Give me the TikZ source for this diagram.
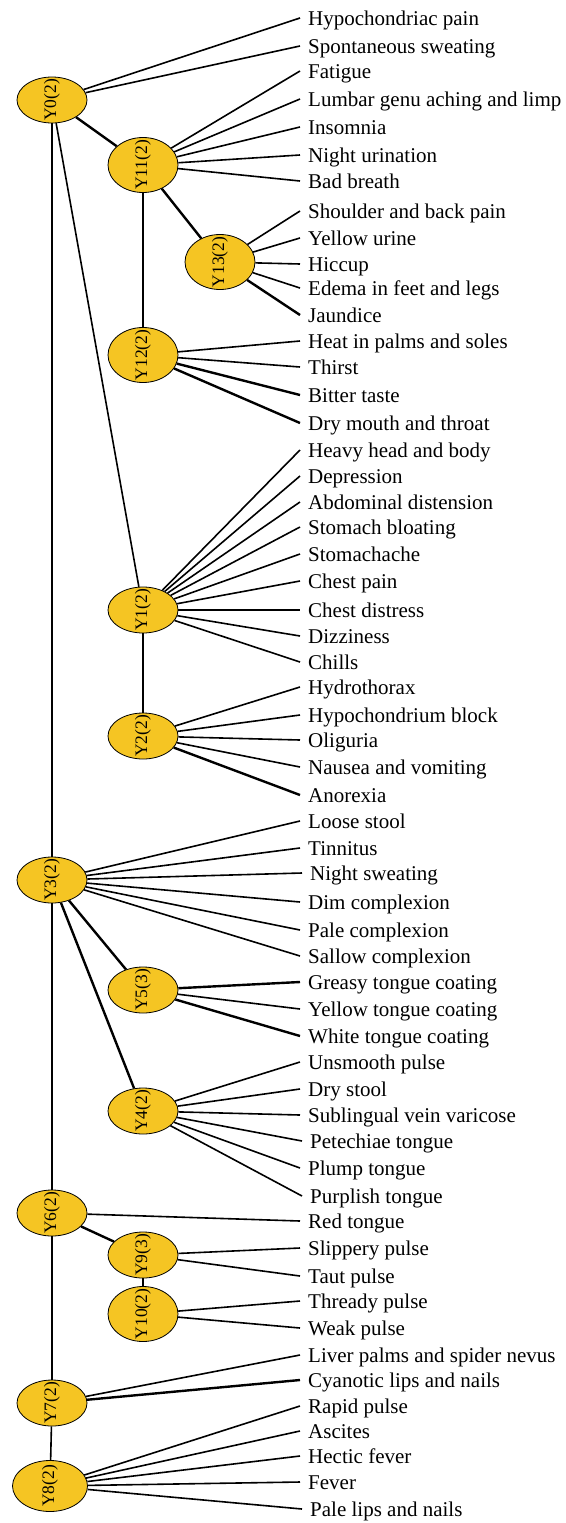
\documentclass[tikz,border=0pt]{standalone}
\usepackage{fontspec}
\setmainfont{Liberation Serif}
\usetikzlibrary{shapes.geometric}
\definecolor{nodeyellow}{HTML}{F5C523}
\tikzset{
  lat/.style={ellipse, draw=black, line width=0.8pt, fill=nodeyellow,
    minimum width=70pt, minimum height=46pt, inner sep=0pt},
  tall/.style={minimum height=55pt},
  lattext/.style={rotate=90, inner sep=0pt, font=\fontsize{17.5}{17.5}\selectfont},
  sym/.style={anchor=west, inner xsep=8pt, inner ysep=0pt, text height=14pt,
    text depth=0pt, font=\fontsize{21}{21}\selectfont},
  edge/.style={line width=1.6pt},
  hedge/.style={line width=2.4pt}
}
\begin{document}
\begin{tikzpicture}[x=1pt,y=-1pt]
\useasboundingbox (0,0) rectangle (565,1523);
% latent nodes
\node[lat] (Y0) at (52,100) {};
\node[lat,tall] (Y11) at (143,165) {};
\node[lat,tall] (Y13) at (220,262) {};
\node[lat,tall] (Y12) at (143,355) {};
\node[lat] (Y1) at (143,610) {};
\node[lat] (Y2) at (143,736) {};
\node[lat] (Y3) at (52,880) {};
\node[lat] (Y5) at (143,990) {};
\node[lat] (Y4) at (143,1111) {};
\node[lat] (Y6) at (52,1213) {};
\node[lat] (Y9) at (143,1255) {};
\node[lat,tall] (Y10) at (143,1314) {};
\node[lat] (Y7) at (52,1403) {};
\node[lat,minimum width=75pt,minimum height=51pt] (Y8) at (50,1486) {};
\node[lattext] (tY0) at (Y0) {Y0(2)};
\node[lattext] (tY11) at (Y11) {Y11(2)};
\node[lattext] (tY13) at (Y13) {Y13(2)};
\node[lattext] (tY12) at (Y12) {Y12(2)};
\node[lattext] (tY1) at (Y1) {Y1(2)};
\node[lattext] (tY2) at (Y2) {Y2(2)};
\node[lattext] (tY3) at (Y3) {Y3(2)};
\node[lattext] (tY5) at (Y5) {Y5(3)};
\node[lattext] (tY4) at (Y4) {Y4(2)};
\node[lattext] (tY6) at (Y6) {Y6(2)};
\node[lattext] (tY9) at (Y9) {Y9(3)};
\node[lattext] (tY10) at (Y10) {Y10(2)};
\node[lattext] (tY7) at (Y7) {Y7(2)};
\node[lattext] (tY8) at (Y8) {Y8(2)};
% symptom labels
\node[sym] (s1) at (300,18) {Hypochondriac pain};
\node[sym] (s2) at (300,46) {Spontaneous sweating};
\node[sym] (s3) at (300,71) {Fatigue};
\node[sym] (s4) at (300,99) {Lumbar genu aching and limp};
\node[sym] (s5) at (300,127) {Insomnia};
\node[sym] (s6) at (300,155) {Night urination};
\node[sym] (s7) at (300,181) {Bad breath};
\node[sym] (s8) at (300,211) {Shoulder and back pain};
\node[sym] (s9) at (300,238) {Yellow urine};
\node[sym] (s10) at (300,264) {Hiccup};
\node[sym] (s11) at (300,288) {Edema in feet and legs};
\node[sym] (s12) at (300,315) {Jaundice};
\node[sym] (s13) at (300,341) {Heat in palms and soles};
\node[sym] (s14) at (300,367) {Thirst};
\node[sym] (s15) at (300,395) {Bitter taste};
\node[sym] (s16) at (300,423) {Dry mouth and throat};
\node[sym] (s17) at (300,450) {Heavy head and body};
\node[sym] (s18) at (300,476) {Depression};
\node[sym] (s19) at (300,502) {Abdominal distension};
\node[sym] (s20) at (300,527) {Stomach bloating};
\node[sym] (s21) at (300,554) {Stomachache};
\node[sym] (s22) at (300,581) {Chest pain};
\node[sym] (s23) at (300,610) {Chest distress};
\node[sym] (s24) at (300,636) {Dizziness};
\node[sym] (s25) at (300,662) {Chills};
\node[sym] (s26) at (300,687) {Hydrothorax};
\node[sym] (s27) at (300,715) {Hypochondrium block};
\node[sym] (s28) at (300,740) {Oliguria};
\node[sym] (s29) at (300,767) {Nausea and vomiting};
\node[sym] (s30) at (300,795) {Anorexia};
\node[sym] (s31) at (300,821) {Loose stool};
\node[sym] (s32) at (300,848) {Tinnitus};
\node[sym] (s33) at (302,873) {Night sweating};
\node[sym] (s34) at (300,902) {Dim complexion};
\node[sym] (s35) at (300,930) {Pale complexion};
\node[sym] (s36) at (300,956) {Sallow complexion};
\node[sym] (s37) at (300,982) {Greasy tongue coating};
\node[sym] (s38) at (300,1009) {Yellow tongue coating};
\node[sym] (s39) at (300,1036) {White tongue coating};
\node[sym] (s40) at (300,1062) {Unsmooth pulse};
\node[sym] (s41) at (300,1089) {Dry stool};
\node[sym] (s42) at (300,1115) {Sublingual vein varicose};
\node[sym] (s43) at (302,1141) {Petechiae tongue};
\node[sym] (s44) at (300,1168) {Plump tongue};
\node[sym] (s45) at (302,1196) {Purplish tongue};
\node[sym] (s46) at (300,1221) {Red tongue};
\node[sym] (s47) at (300,1248) {Slippery pulse};
\node[sym] (s48) at (300,1276) {Taut pulse};
\node[sym] (s49) at (300,1301) {Thready pulse};
\node[sym] (s50) at (300,1328) {Weak pulse};
\node[sym] (s51) at (300,1355) {Liver palms and spider nevus};
\node[sym] (s52) at (300,1380) {Cyanotic lips and nails};
\node[sym] (s53) at (300,1406) {Rapid pulse};
\node[sym] (s54) at (300,1431) {Ascites};
\node[sym] (s55) at (300,1456) {Hectic fever};
\node[sym] (s56) at (300,1482) {Fever};
\node[sym] (s57) at (302,1509) {Pale lips and nails};
% connectors
\draw[edge] (Y0) -- (s1.west);
\draw[edge] (Y0) -- (s2.west);
\draw[hedge] (Y0) -- (Y11);
\draw[edge] (Y0) -- (Y1);
\draw[edge] (Y0) -- (Y3);
\draw[edge] (Y11) -- (s3.west);
\draw[edge] (Y11) -- (s4.west);
\draw[edge] (Y11) -- (s5.west);
\draw[edge] (Y11) -- (s6.west);
\draw[edge] (Y11) -- (s7.west);
\draw[hedge] (Y11) -- (Y13);
\draw[hedge] (Y11) -- (Y12);
\draw[edge] (Y13) -- (s8.west);
\draw[edge] (Y13) -- (s9.west);
\draw[edge] (Y13) -- (s10.west);
\draw[edge] (Y13) -- (s11.west);
\draw[hedge] (Y13) -- (s12.west);
\draw[edge] (Y12) -- (s13.west);
\draw[edge] (Y12) -- (s14.west);
\draw[hedge] (Y12) -- (s15.west);
\draw[hedge] (Y12) -- (s16.west);
\draw[edge] (Y1) -- (s17.west);
\draw[edge] (Y1) -- (s18.west);
\draw[edge] (Y1) -- (s19.west);
\draw[edge] (Y1) -- (s20.west);
\draw[edge] (Y1) -- (s21.west);
\draw[edge] (Y1) -- (s22.west);
\draw[edge] (Y1) -- (s23.west);
\draw[edge] (Y1) -- (s24.west);
\draw[edge] (Y1) -- (s25.west);
\draw[hedge] (Y1) -- (Y2);
\draw[edge] (Y2) -- (s26.west);
\draw[edge] (Y2) -- (s27.west);
\draw[edge] (Y2) -- (s28.west);
\draw[edge] (Y2) -- (s29.west);
\draw[hedge] (Y2) -- (s30.west);
\draw[edge] (Y3) -- (s31.west);
\draw[edge] (Y3) -- (s32.west);
\draw[edge] (Y3) -- (s33.west);
\draw[edge] (Y3) -- (s34.west);
\draw[edge] (Y3) -- (s35.west);
\draw[edge] (Y3) -- (s36.west);
\draw[hedge] (Y3) -- (Y5);
\draw[hedge] (Y3) -- (Y4);
\draw[hedge] (Y3) -- (Y6);
\draw[hedge] (Y5) -- (s37.west);
\draw[edge] (Y5) -- (s38.west);
\draw[hedge] (Y5) -- (s39.west);
\draw[edge] (Y4) -- (s40.west);
\draw[edge] (Y4) -- (s41.west);
\draw[edge] (Y4) -- (s42.west);
\draw[edge] (Y4) -- (s43.west);
\draw[edge] (Y4) -- (s44.west);
\draw[edge] (Y4) -- (s45.west);
\draw[edge] (Y6) -- (s46.west);
\draw[hedge] (Y6) -- (Y9);
\draw[hedge] (Y6) -- (Y7);
\draw[edge] (Y9) -- (s47.west);
\draw[edge] (Y9) -- (s48.west);
\draw[hedge] (Y9) -- (Y10);
\draw[edge] (Y10) -- (s49.west);
\draw[edge] (Y10) -- (s50.west);
\draw[edge] (Y7) -- (s51.west);
\draw[hedge] (Y7) -- (s52.west);
\draw[edge] (Y7) -- (Y8);
\draw[edge] (Y8) -- (s53.west);
\draw[edge] (Y8) -- (s54.west);
\draw[edge] (Y8) -- (s55.west);
\draw[edge] (Y8) -- (s56.west);
\draw[edge] (Y8) -- (s57.west);
\end{tikzpicture}
\end{document}
